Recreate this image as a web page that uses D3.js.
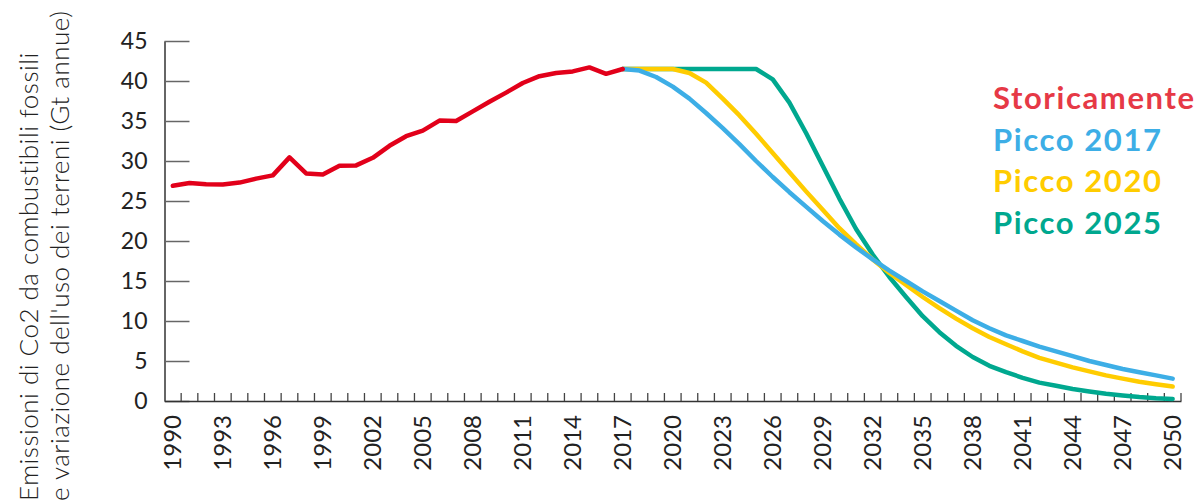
<!DOCTYPE html>
<html>
<head>
<meta charset="utf-8">
<script src="https://cdn.jsdelivr.net/npm/d3@7"></script>
<style>
  body { margin: 0; background: #fff; }
  svg { display: block; font-family: Lato, "Open Sans", sans-serif; }
</style>
</head>
<body>
<div id="container"></div>
<script>
/* global d3*/

const width = 1203;
const height = 503;

// data (Gt per year)
const years = d3.range(1990, 2051);
const tickYears = [1990, 1993, 1996, 1999, 2002, 2005, 2008, 2011, 2014, 2017, 2020, 2023, 2026, 2029, 2032, 2035, 2038, 2041, 2044, 2047, 2050];
const yTicks = [0, 5, 10, 15, 20, 25, 30, 35, 40, 45];

// 1990 - 2017
const storico = [26.9, 27.25, 27.1, 27.05, 27.3, 27.8, 28.2, 30.45, 28.45, 28.3, 29.4, 29.45, 30.4, 31.9,
  33.1, 33.8, 35.05, 35.0, 36.2, 37.4, 38.55, 39.75, 40.6, 41.0, 41.2, 41.7, 40.9, 41.5];
// 2017 - 2050
const picco2017 = [41.5, 41.3, 40.5, 39.3, 37.8, 36.0, 34.1, 32.1, 30.0, 28.0, 26.1, 24.3, 22.5, 20.8, 19.2,
  17.7, 16.3, 15.0, 13.7, 12.5, 11.3, 10.1, 9.1, 8.2, 7.5, 6.8, 6.2, 5.6, 5.0, 4.5, 4.0, 3.6, 3.2, 2.8];
const picco2020 = [41.5, 41.5, 41.5, 41.5, 41.0, 39.8, 37.8, 35.7, 33.4, 31.0, 28.6, 26.2, 23.9, 21.6, 19.6,
  17.7, 16.0, 14.5, 13.0, 11.6, 10.3, 9.1, 8.0, 7.1, 6.2, 5.4, 4.8, 4.2, 3.7, 3.2, 2.8, 2.4, 2.1, 1.8];
const picco2025 = [41.5, 41.5, 41.5, 41.5, 41.5, 41.5, 41.5, 41.5, 41.5, 40.2, 37.3, 33.5, 29.4, 25.3, 21.5,
  18.3, 15.5, 13.0, 10.6, 8.6, 6.9, 5.5, 4.4, 3.6, 2.9, 2.3, 1.9, 1.5, 1.2, 0.9, 0.7, 0.5, 0.35, 0.25];

const series = [
  { name: "Picco 2025", start: 2017, values: picco2025, color: "#00a88f" },
  { name: "Picco 2020", start: 2017, values: picco2020, color: "#ffcc00" },
  { name: "Picco 2017", start: 2017, values: picco2017, color: "#3daee6" },
  { name: "Storicamente", start: 1990, values: storico, color: "#e2001a" }
];
const legendItems = [
  { name: "Storicamente", color: "#e63946" },
  { name: "Picco 2017", color: "#3daee6" },
  { name: "Picco 2020", color: "#ffcc00" },
  { name: "Picco 2025", color: "#00a88f" }
];

const svg = d3
  .select("#container")
  .append("svg")
  .attr("width", width)
  .attr("height", height);

const xScale = d3.scaleBand(years, [164.5, 1181]).padding(0);
const yScale = d3.scaleLinear([0, 45], [401, 41]);

// y axis, ticks point into the plot
const yAx = svg
  .append("g")
  .attr("transform", "translate(164.5,0)")
  .call(d3.axisLeft(yScale).tickValues(yTicks).tickSize(-25).tickSizeOuter(0).tickPadding(17));
yAx.select(".domain").attr("stroke", "#333").attr("stroke-width", 1.5);
yAx.selectAll(".tick line").attr("stroke", "#666").attr("stroke-width", 1.5);
yAx.selectAll(".tick text")
  .attr("font-size", 23)
  .attr("fill", "#222")
  .attr("font-family", "Lato, sans-serif");

// x axis: labels at band centres, small ticks at band edges
const xAx = svg
  .append("g")
  .attr("transform", "translate(0,401)")
  .call(d3.axisBottom(xScale).tickValues(tickYears).tickSize(0).tickSizeOuter(0).tickPadding(0));
xAx.select(".domain").attr("stroke", "#333").attr("stroke-width", 1.5);
xAx.selectAll(".tick text")
  .attr("font-size", 24)
  .attr("fill", "#222")
  .attr("font-family", "Lato, sans-serif")
  .attr("text-anchor", "end")
  .attr("transform", "rotate(-90)")
  .attr("x", -14)
  .attr("y", 0)
  .attr("dy", "0.36em");

xAx
  .selectAll(".edge")
  .data(years.slice(1).concat(["end"]))
  .enter()
  .append("line")
  .attr("class", "edge")
  .attr("x1", (d) => (d === "end" ? xScale.range()[1] : xScale(d)))
  .attr("x2", (d) => (d === "end" ? xScale.range()[1] : xScale(d)))
  .attr("y1", 0)
  .attr("y2", -8)
  .attr("stroke", "#444")
  .attr("stroke-width", 1.3);

// axis title
const title = svg
  .append("text")
  .attr("transform", "translate(38,501) rotate(-90)")
  .attr("font-size", 26)
  .attr("font-weight", 300)
  .attr("letter-spacing", 0.5)
  .attr("fill", "#222");
title.append("tspan").attr("x", 0).attr("y", 0).text("Emissioni di Co2 da combustibili fossili");
title.append("tspan").attr("x", 0).attr("y", 31).text("e variazione dell'uso dei terreni (Gt annue)");

// lines
const line = d3
  .line()
  .x((d) => xScale(d.year) + xScale.bandwidth() / 2)
  .y((d) => yScale(d.value));

svg
  .selectAll(".serie")
  .data(series)
  .enter()
  .append("path")
  .attr("class", "serie")
  .attr("d", (s) => line(s.values.map((v, i) => ({ year: s.start + i, value: v }))))
  .attr("fill", "none")
  .attr("stroke", (s) => s.color)
  .attr("stroke-width", 4.5)
  .attr("stroke-linejoin", "round")
  .attr("stroke-linecap", "round");

// legend
svg
  .selectAll(".legend")
  .data(legendItems)
  .enter()
  .append("text")
  .attr("class", "legend")
  .attr("x", 993)
  .attr("y", (d, i) => 109 + i * 41.7)
  .attr("font-size", 31)
  .attr("font-weight", 700)
  .attr("letter-spacing", 1.6)
  .attr("fill", (d) => d.color)
  .text((d) => d.name);
</script>
</body>
</html>
